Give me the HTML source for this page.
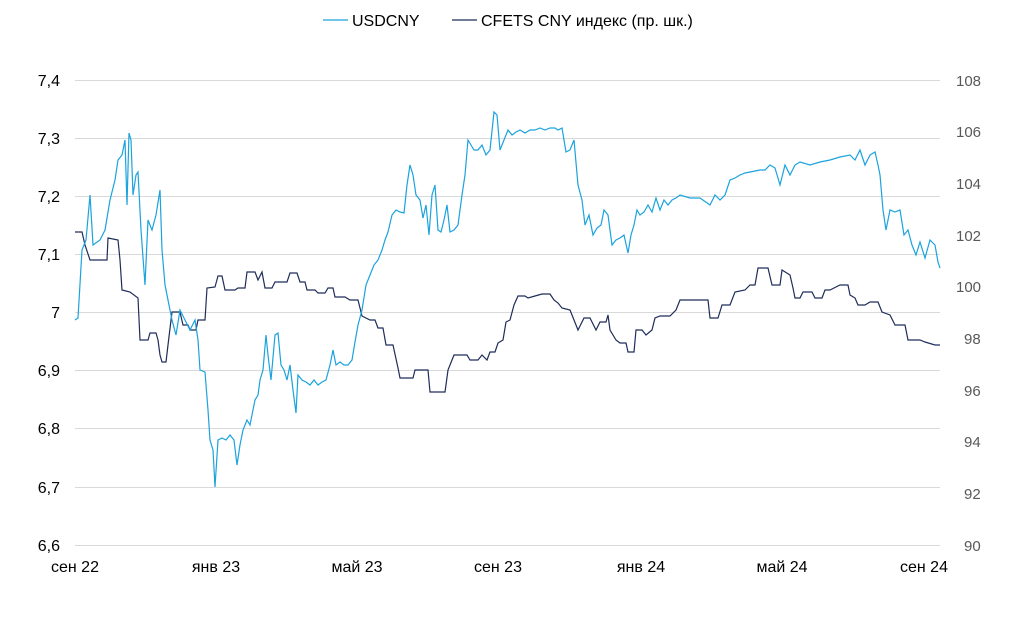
<!DOCTYPE html>
<html><head><meta charset="utf-8"><style>
body{margin:0;background:#fff;}
text{font-family:"Liberation Sans","DejaVu Sans",sans-serif;}
</style></head><body>
<svg width="1024" height="615" xmlns="http://www.w3.org/2000/svg">
<g stroke="#d9d9d9" stroke-width="1">
<line x1="75" x2="940" y1="80.5" y2="80.5"/><line x1="75" x2="940" y1="138.5" y2="138.5"/>
<line x1="75" x2="940" y1="196.5" y2="196.5"/><line x1="75" x2="940" y1="254.5" y2="254.5"/>
<line x1="75" x2="940" y1="312.5" y2="312.5"/><line x1="75" x2="940" y1="370.5" y2="370.5"/>
<line x1="75" x2="940" y1="428.5" y2="428.5"/><line x1="75" x2="940" y1="487.5" y2="487.5"/>
<line x1="75" x2="940" y1="545.5" y2="545.5"/>
</g>
<g font-size="16" fill="#000" text-anchor="end">
<text x="60" y="86">7,4</text><text x="60" y="144">7,3</text><text x="60" y="202">7,2</text>
<text x="60" y="260">7,1</text><text x="60" y="318">7</text><text x="60" y="376">6,9</text>
<text x="60" y="434">6,8</text><text x="60" y="493">6,7</text><text x="60" y="551">6,6</text>
</g>
<g font-size="15" fill="#595959">
<text x="956" y="86">108</text><text x="956" y="137">106</text><text x="956" y="189">104</text>
<text x="956" y="241">102</text><text x="956" y="292">100</text><text x="964" y="344">98</text>
<text x="964" y="396">96</text><text x="964" y="447">94</text><text x="964" y="499">92</text>
<text x="964" y="551">90</text>
</g>
<g font-size="16" fill="#000" text-anchor="middle">
<text x="75" y="572">сен 22</text><text x="216" y="572">янв 23</text><text x="357" y="572">май 23</text>
<text x="498" y="572">сен 23</text><text x="641" y="572">янв 24</text><text x="782" y="572">май 24</text>
<text x="924" y="572">сен 24</text>
</g>
<line x1="323" x2="348" y1="20" y2="20" stroke="#1aa3dd" stroke-width="1.3"/>
<text x="352" y="26" font-size="16">USDCNY</text>
<line x1="452" x2="477" y1="20" y2="20" stroke="#1f2d5a" stroke-width="1.3"/>
<text x="481" y="26" font-size="16">CFETS CNY индекс (пр. шк.)</text>
<polyline fill="none" stroke="#1f2d5a" stroke-width="1.2" points="75,232 82,232 85,245 90,260 107,260 108,238 118,240 120,260 122,290 130,292 138,298 140,340 148,340 150,333 156,333 158,340 160,355 162,362 166,362 168,345 172,312 180,312 183,325 188,325 190,330 196,330 198,320 205,320 207,288 215,287 218,276 222,276 225,290 235,290 238,288 245,288 247,272 255,272 258,280 262,272 265,288 272,288 275,282 287,282 290,273 297,273 300,282 305,282 307,290 315,290 318,293 325,293 328,288 333,288 335,297 340,297 345,297 350,300 358,300 362,316 370,320 375,320 378,328 383,328 386,345 393,345 398,368 400,378 413,378 415,370 428,370 430,392 445,392 448,370 454,355 467,355 470,360 478,360 482,355 487,360 490,352 495,352 498,343 503,340 506,322 510,320 514,305 518,296 525,296 528,298 535,296 542,294 550,294 554,300 558,303 562,308 570,310 572,315 578,330 584,318 590,318 596,330 600,322 606,322 608,315 610,330 616,340 620,343 626,343 628,352 634,352 636,330 642,330 646,335 652,330 655,318 660,316 670,316 676,310 680,300 708,300 710,318 718,318 722,305 730,305 735,292 745,290 750,285 755,285 758,268 768,268 772,285 780,285 782,270 790,275 793,288 795,298 800,298 803,292 812,292 815,298 822,298 825,290 830,290 834,288 840,285 848,285 850,295 855,298 858,305 865,305 870,302 878,302 882,312 890,315 895,325 905,325 908,340 920,340 925,342 935,345 940,345"/>
<polyline fill="none" stroke="#1aa3dd" stroke-width="1.2" points="75,320 78,318 82,250 86,240 90,195 93,245 100,240 105,230 110,200 115,180 118,160 122,155 125,140 127,205 129,133 131,140 133,195 136,175 138,172 141,230 145,285 148,220 152,230 156,215 160,190 162,250 165,285 168,300 172,320 176,335 180,310 185,320 190,330 195,320 198,340 200,370 205,372 208,410 210,440 213,450 215,487 218,440 222,438 226,440 230,435 234,440 237,465 240,445 243,430 247,420 250,425 255,400 258,395 260,380 263,370 266,335 268,355 271,380 275,335 278,333 281,365 284,370 287,380 290,365 293,390 296,413 298,375 302,380 306,382 310,385 314,380 318,385 322,382 326,380 330,365 333,350 336,365 340,362 344,365 348,365 352,360 355,342 358,325 362,310 366,285 370,275 374,265 378,260 382,250 385,240 388,232 392,215 396,210 400,212 404,213 407,185 410,165 413,175 416,195 420,200 423,218 426,205 429,235 432,195 435,185 438,230 441,232 444,220 447,205 450,232 454,230 458,225 462,195 465,175 468,140 471,145 474,150 478,150 482,145 486,155 490,150 494,112 497,115 500,150 504,140 508,130 512,135 516,132 520,130 525,133 530,130 535,130 540,128 545,130 550,128 555,128 558,130 562,128 566,152 570,150 574,140 578,185 582,200 585,225 589,215 593,235 597,228 601,225 604,210 608,215 612,245 616,240 620,238 624,235 628,253 631,235 634,225 637,210 640,215 644,212 648,205 652,212 656,198 660,210 664,200 668,205 672,200 676,198 680,195 690,198 700,198 710,205 715,195 720,200 725,195 730,180 735,178 740,175 745,173 750,172 760,170 765,170 770,165 775,168 780,185 785,165 790,175 795,165 800,162 810,165 820,162 830,160 840,157 850,155 855,160 860,150 865,165 870,155 875,152 878,165 880,175 883,210 886,230 890,210 895,212 900,210 904,235 908,230 912,245 916,255 920,242 925,258 930,240 935,245 938,262 940,268"/>
</svg>
</body></html>
